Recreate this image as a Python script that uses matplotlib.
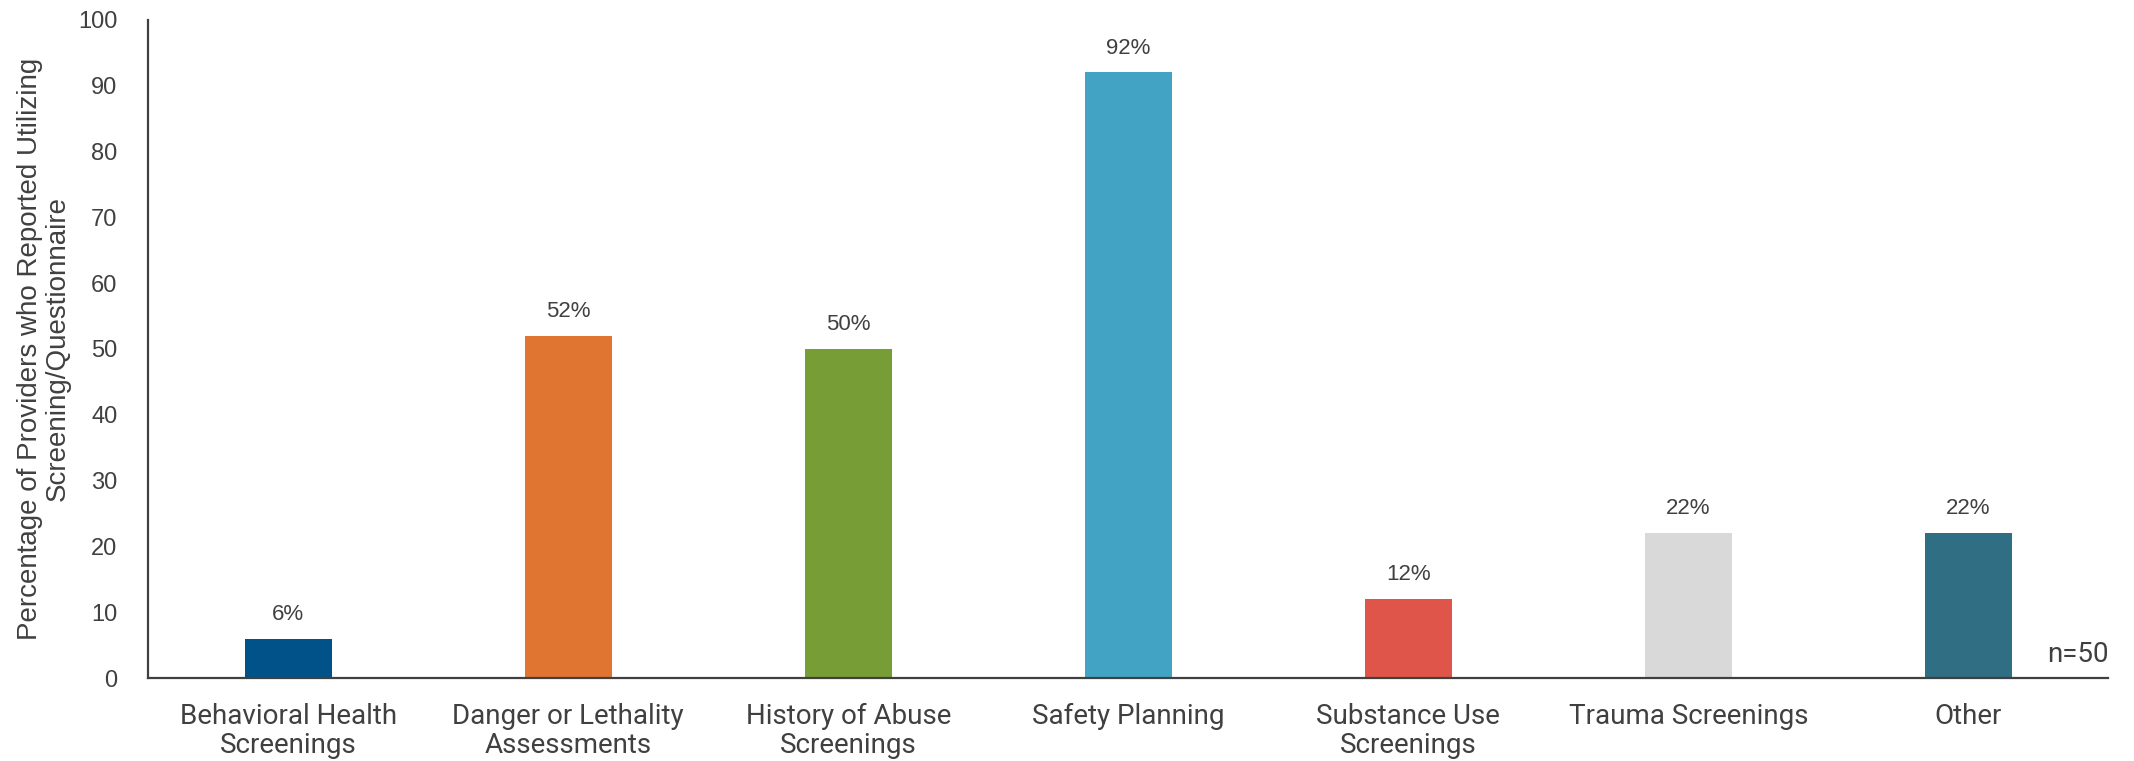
import matplotlib
matplotlib.use("Agg")
import matplotlib.pyplot as plt
import numpy as np

categories = ['Behavioral Health\nScreenings', 'Danger or Lethality\nAssessments',
              'History of Abuse\nScreenings', 'Safety Planning',
              'Substance Use\nScreenings', 'Trauma Screenings', 'Other']
values = [6, 52, 50, 92, 12, 22, 22]
colors = ['#02528A', '#E07431', '#779D37', '#43A3C4', '#E0554A', '#D9D9D9', '#306E83']

textColor = '#404040'

fig = plt.figure(figsize=(21.34, 7.61), dpi=100)
ax = fig.add_axes([0.0694, 0.109, 0.9186, 0.865])

x = np.arange(len(values))
bars = ax.bar(x, values, width=0.31, color=colors, zorder=2)

for xi, v in zip(x, values):
    ax.annotate(f'{v}%', (xi, v), xytext=(0, 10), textcoords='offset points',
                ha='center', va='bottom', fontsize=16, color=textColor,
                family='Liberation Sans')

ax.set_xlim(-0.5, 6.5)
ax.set_ylim(0, 100)
ax.set_yticks(range(0, 101, 10))
ax.set_xticks(x)
ax.set_xticklabels(categories, fontsize=20, color=textColor, family='Roboto',
                   linespacing=1.1)
for lbl in ax.get_yticklabels():
    lbl.set_fontsize(17)
    lbl.set_color(textColor)
    lbl.set_family('Liberation Sans')
ax.tick_params(axis='both', length=0)
ax.tick_params(axis='x', pad=18)
ax.tick_params(axis='y', pad=22)

for side in ['top', 'right']:
    ax.spines[side].set_visible(False)
for side in ['left', 'bottom']:
    ax.spines[side].set_color(textColor)
    ax.spines[side].set_linewidth(1.6)

ax.set_ylabel('Percentage of Providers who Reported Utilizing\nScreening/Questionnaire',
              fontsize=20, color=textColor, family='Liberation Sans', labelpad=5,
              linespacing=1.1)

ax.text(6.5, 1.5, 'n=50', ha='right', va='bottom', fontsize=20,
        color=textColor, family='Roboto')

fig.savefig('out.png', dpi=100)
